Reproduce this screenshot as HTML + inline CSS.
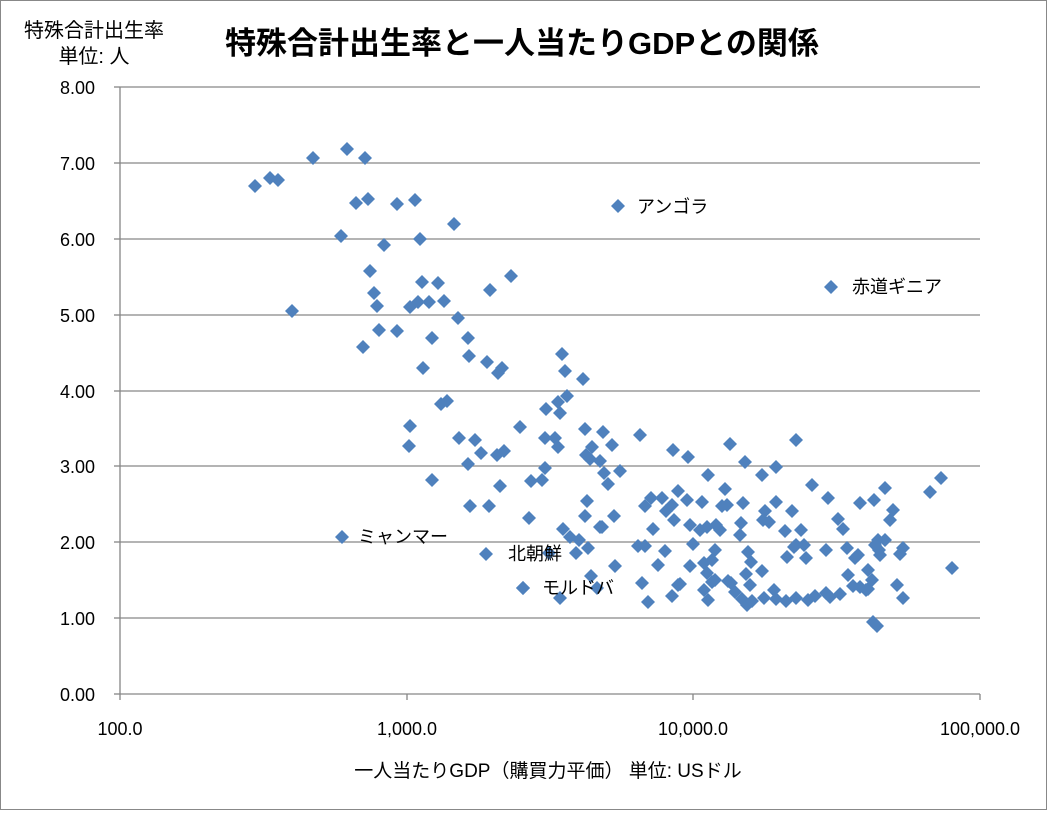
<!DOCTYPE html>
<html><head><meta charset="utf-8"><style>
body{margin:0;background:#fff}
svg text{font-family:"Liberation Sans","Noto Sans CJK JP",sans-serif}
</style></head><body>
<svg width="1047" height="810" xmlns="http://www.w3.org/2000/svg">
<rect x="0.5" y="0.5" width="1046" height="809" fill="#fff" stroke="#888"/>
<g stroke="#868686" stroke-width="1.3">
<line x1="120" y1="87" x2="980" y2="87"/>
<line x1="120" y1="163" x2="980" y2="163"/>
<line x1="120" y1="239" x2="980" y2="239"/>
<line x1="120" y1="315" x2="980" y2="315"/>
<line x1="120" y1="391" x2="980" y2="391"/>
<line x1="120" y1="466" x2="980" y2="466"/>
<line x1="120" y1="542" x2="980" y2="542"/>
<line x1="120" y1="618" x2="980" y2="618"/>
<line x1="120" y1="694" x2="980" y2="694"/>
<line x1="120" y1="87" x2="120" y2="694"/>
<line x1="120" y1="694" x2="120" y2="700"/><line x1="407" y1="694" x2="407" y2="700"/><line x1="693" y1="694" x2="693" y2="700"/><line x1="980" y1="694" x2="980" y2="700"/>
<line x1="114" y1="87" x2="120" y2="87"/><line x1="114" y1="163" x2="120" y2="163"/><line x1="114" y1="239" x2="120" y2="239"/><line x1="114" y1="315" x2="120" y2="315"/><line x1="114" y1="391" x2="120" y2="391"/><line x1="114" y1="466" x2="120" y2="466"/><line x1="114" y1="542" x2="120" y2="542"/><line x1="114" y1="618" x2="120" y2="618"/><line x1="114" y1="694" x2="120" y2="694"/>
</g>
<g font-size="18" text-anchor="end" fill="#000">
<text x="95" y="94">8.00</text><text x="95" y="170">7.00</text><text x="95" y="246">6.00</text><text x="95" y="322">5.00</text><text x="95" y="398">4.00</text><text x="95" y="473">3.00</text><text x="95" y="549">2.00</text><text x="95" y="625">1.00</text><text x="95" y="701">0.00</text>
</g>
<g font-size="18" text-anchor="middle">
<text x="120" y="735">100.0</text><text x="407" y="735">1,000.0</text><text x="693" y="735">10,000.0</text><text x="980" y="735">100,000.0</text>
</g>
<text x="522" y="54" font-size="31" font-weight="bold" text-anchor="middle">特殊合計出生率と一人当たりGDPとの関係</text>
<text x="94" y="37" font-size="20" text-anchor="middle">特殊合計出生率</text>
<text x="94" y="63" font-size="20" text-anchor="middle">単位: 人</text>
<text x="548" y="777" font-size="19" text-anchor="middle">一人当たりGDP（購買力平価） 単位: USドル</text>
<g id="pts" fill="#4f81bd"></g>
<g font-size="18">
<text x="637" y="213">アンゴラ</text>
<text x="852" y="293">赤道ギニア</text>
<text x="358" y="543">ミャンマー</text>
<text x="508" y="560">北朝鮮</text>
<text x="542" y="594">モルドバ</text>
</g>
</svg>
<script>
var p=[[255,186],[270,178],[278,180],[313,158],[347,149],[365,158],[356,203],[368,199],[397,204],[415,200],[341,236],[384,245],[420,239],[454,224],[292,311],[370,271],[374,293],[377,306],[363,347],[379,330],[397,331],[410,307],[422,282],[429,302],[438,283],[444,301],[458,318],[468,338],[469,356],[423,368],[432,338],[511,276],[490,290],[418,302],[502,368],[498,373],[487,362],[410,426],[409,446],[432,480],[441,404],[447,401],[459,438],[468,464],[475,440],[481,453],[497,455],[500,486],[504,451],[470,506],[489,506],[520,427],[531,481],[529,518],[562,354],[565,371],[583,379],[558,402],[567,396],[546,409],[560,413],[555,438],[558,447],[545,438],[585,429],[603,432],[592,447],[612,445],[545,468],[542,480],[586,455],[590,459],[600,461],[604,473],[608,484],[620,471],[587,501],[585,516],[600,527],[614,516],[563,529],[570,537],[579,540],[576,553],[588,548],[602,527],[560,598],[523,588],[591,576],[615,566],[597,588],[638,546],[645,506],[645,546],[653,529],[665,551],[674,520],[658,565],[642,583],[680,584],[672,596],[648,602],[700,530],[720,530],[727,505],[704,563],[707,573],[712,582],[728,581],[750,585],[746,574],[751,562],[762,571],[748,552],[742,599],[747,605],[786,601],[796,598],[774,590],[796,545],[804,545],[806,558],[826,550],[838,519],[843,529],[858,555],[879,550],[860,503],[874,500],[885,488],[785,531],[787,557],[794,547],[763,520],[741,523],[716,525],[693,544],[678,491],[688,457],[708,475],[730,444],[745,462],[776,467],[796,440],[812,485],[776,502],[765,511],[743,503],[725,489],[702,502],[687,500],[662,498],[666,511],[651,498],[673,450],[640,435],[690,525],[672,505],[762,475],[722,506],[769,522],[792,511],[801,530],[828,498],[847,548],[860,587],[868,589],[872,580],[868,570],[853,586],[897,585],[903,598],[878,540],[880,555],[885,540],[840,594],[826,593],[815,596],[808,600],[776,599],[764,598],[752,601],[735,592],[731,583],[715,580],[708,600],[704,590],[678,585],[690,566],[715,550],[707,527],[740,535],[712,560],[873,622],[877,626],[875,545],[890,520],[930,492],[952,568],[941,478],[893,510],[900,554],[903,548],[855,558],[830,597],[866,590],[848,575],[618,206],[831,287],[342,537],[549,553],[486,554],[523,588]];
var g=document.getElementById('pts'),s='';
p.forEach(function(a){var x=a[0],y=a[1];s+='<polygon points="'+x+','+(y-7)+' '+(x+7)+','+y+' '+x+','+(y+7)+' '+(x-7)+','+y+'"/>';});
g.innerHTML=s;
</script>
</body></html>
